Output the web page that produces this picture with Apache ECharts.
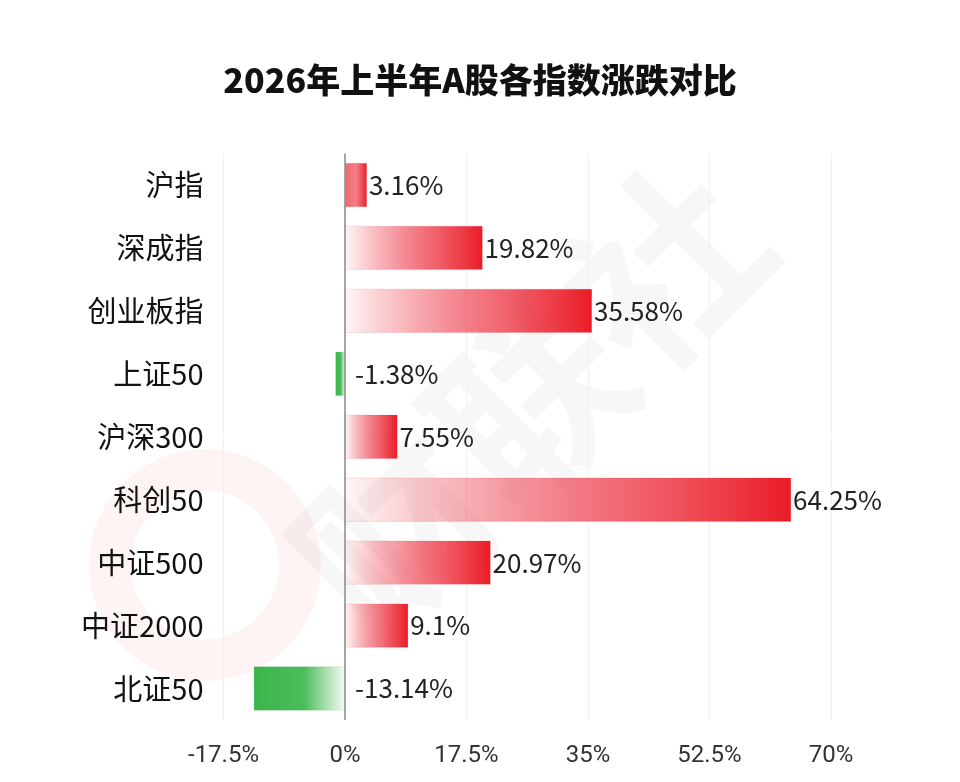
<!DOCTYPE html>
<html>
<head>
<meta charset="utf-8">
<script src="https://cdn.jsdelivr.net/npm/echarts@6/dist/echarts.min.js"></script>
<style>html,body{margin:0;padding:0;background:#fff}#c{width:960px;height:782px}</style>
</head>
<body>
<div id="c"></div>
<script>
const titleText = '2026年上半年A股各指数涨跌对比';
const categories = ['沪指','深成指','创业板指','上证50','沪深300','科创50','中证500','中证2000','北证50'];
const values = [3.16, 19.82, 35.58, -1.38, 7.55, 64.25, 20.97, 9.1, -13.14];
const valueLabels = ['3.16%','19.82%','35.58%','-1.38%','7.55%','64.25%','20.97%','9.1%','-13.14%'];
const xTicks = [-17.5, 0, 17.5, 35, 52.5, 70];

const chart = echarts.init(document.getElementById('c'));

function redGrad(startAlpha){
  return new echarts.graphic.LinearGradient(0,0,1,0,[
    {offset:0,color:'rgba(236,40,50,'+startAlpha+')'},
    {offset:0.5,color:'rgba(238,75,90,0.72)'},
    {offset:1,color:'rgba(234,28,38,1)'}
  ]);
}
const greenGrad = new echarts.graphic.LinearGradient(0,0,1,0,[
  {offset:0,color:'#3bb54a'},
  {offset:0.55,color:'#4cbc5a'},
  {offset:1,color:'rgba(80,190,95,0.05)'}
]);

const data = values.map((v,i)=>({
  value:v,
  itemStyle:{
    color: v<0 ? greenGrad : redGrad(Math.abs(v)<5 ? 0.7 : 0.04),
    borderColor: v<0 ? 'rgba(40,150,60,0.2)' : 'rgba(200,30,40,0.2)',
    borderWidth: 0.6
  },
  label:{
    position:'right',
    distance: v<0 ? 10 : 2
  }
}));

chart.setOption({
  backgroundColor:'#fff',
  animation:false,
  title:{
    text:titleText,
    left:'center',
    top:58,
    textStyle:{fontFamily:'Noto Sans CJK SC',fontWeight:900,fontSize:34,color:'#111'}
  },
  graphic:[
    {type:'circle',z:0,shape:{cx:205,cy:565,r:95},style:{fill:'none',stroke:'rgba(235,60,60,0.06)',lineWidth:42}},
    {type:'text',z:0,x:530,y:400,rotation:Math.PI/4,
     style:{text:'财联社',fontFamily:'Noto Sans CJK SC',fontWeight:'bold',fontSize:190,fill:'rgba(0,0,0,0.03)',align:'center',verticalAlign:'middle'}}
  ],
  grid:{left:223.5,right:129,top:153.5,bottom:62,containLabel:false},
  xAxis:{
    type:'value',
    min:-17.5,max:70,interval:17.5,
    axisLine:{show:false},axisTick:{show:false},
    splitLine:{show:true,lineStyle:{color:'#f1f1f1',width:1}},
    axisLabel:{
      margin:24,
      fontFamily:'Roboto',fontSize:24,color:'#333',
      formatter:(v)=>{ const i=xTicks.indexOf(v); return (i>=0? String(xTicks[i]) : String(v))+'%'; }
    }
  },
  yAxis:{
    type:'category',
    data:categories,
    inverse:true,
    axisLine:{show:false},axisTick:{show:false},
    splitLine:{show:false},
    axisLabel:{margin:20,fontFamily:'Noto Sans CJK SC',fontSize:29,color:'#111'}
  },
  series:[{
    type:'bar',
    data:data,
    barWidth:44,
    z:2,
    label:{
      show:true,
      fontFamily:'Noto Sans CJK SC',fontSize:26,color:'#222',
      formatter:(p)=>valueLabels[p.dataIndex]
    },
    markLine:{
      silent:true,symbol:'none',
      label:{show:false},
      lineStyle:{color:'#8a8a8a',width:1.5,type:'solid'},
      data:[{xAxis:0}]
    }
  }]
});
</script>
</body>
</html>
